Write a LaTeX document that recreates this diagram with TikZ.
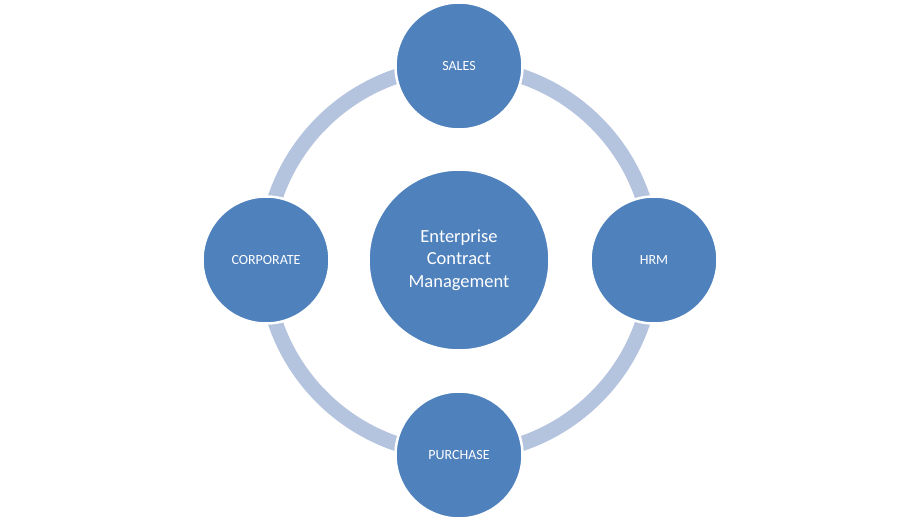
\documentclass[tikz,border=0pt]{standalone}
\usepackage{fontspec}
\setmainfont{Carlito}
\usetikzlibrary{positioning}
\definecolor{unit}{RGB}{79,129,189}
\definecolor{ring}{RGB}{180,195,222}

\begin{document}
\begin{tikzpicture}[
  x=1pt, y=-1pt,
  unit/.style = {circle, fill=unit, draw=white, line width=2.5pt,
    text=white, inner sep=0pt, minimum size=127pt, font=\fontsize{14}{16}\selectfont},
  core/.style = {unit, minimum size=181pt, align=center,
    font=\fontsize{18.5}{22.5}\selectfont},
  ringline/.style = {line width=15pt, color=ring},
]

  \useasboundingbox (0,0) rectangle (919,521);

  % centre node
  \node[core] (ecm) at (459,260) {Enterprise\\Contract\\Management};

  % ring behind the units
  \draw[ringline] (ecm.center) circle (194pt);

  \node[unit] (sales) at (459,66) {SALES};
  \node[unit] (hrm) at (654,260) {HRM};
  \node[unit] (purchase) at (459,455) {PURCHASE};
  \node[unit] (corporate) at (266,260) {CORPORATE};

\end{tikzpicture}
\end{document}
